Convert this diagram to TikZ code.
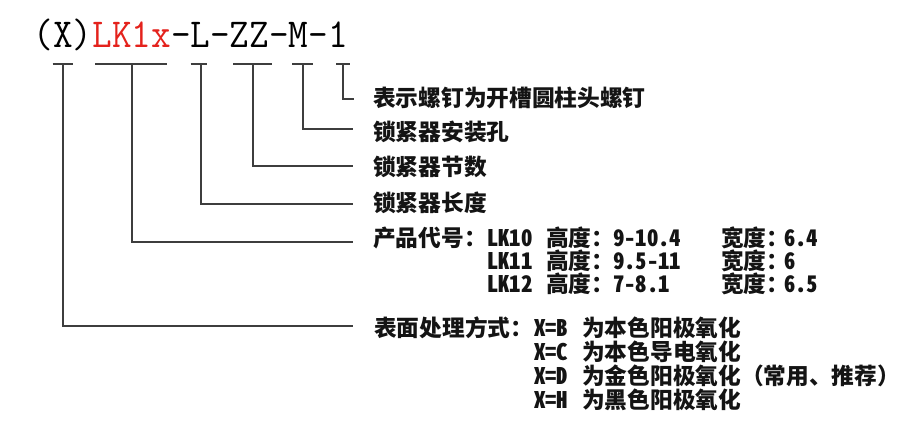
\documentclass[tikz,border=0pt]{standalone}
\usepackage{fontspec}
\newfontfamily\cjk{Noto Sans CJK SC}
\newfontfamily\cjklat[RawFeature=+hwid]{Noto Sans CJK SC}
\definecolor{linegray}{RGB}{62,62,62}
\definecolor{codered}{RGB}{228,34,28}
\definecolor{ink}{RGB}{20,20,20}
\tikzset{
  lbl/.style={anchor=west, inner sep=0pt, text=ink, font=\cjk\bfseries\fontsize{22.7}{24}\selectfont, text height=18.6pt, text depth=1.6pt},
  latlbl/.style={lbl, font=\cjklat\bfseries\fontsize{22.7}{24}\selectfont},
  bar/.style={draw=linegray, line width=1.8pt},
  leader/.style={draw=linegray, line width=1.8pt}
}
\begin{document}
\begin{tikzpicture}[x=1pt,y=-1pt]
\useasboundingbox[fill=white] (0,0) rectangle (908,441);
% title
\node[anchor=base west, inner sep=0pt, yscale=1.08, font=\ttfamily\fontsize{38.1}{40}\selectfont] (title) at (33.5,48)
  {(X)\textcolor{codered}{LK1x}-L-ZZ-M-1};
% bars under the code
\coordinate (b1) at (63,64);
\coordinate (b2) at (132,64);
\coordinate (b3) at (200.7,64);
\coordinate (b4) at (253.3,64);
\coordinate (b5) at (303.3,64);
\coordinate (b6) at (343.3,64);
\draw[bar] (52.7,64) -- (72.7,64);
\draw[bar] (95,64) -- (167,64);
\draw[bar] (190.7,64) -- (207.3,64);
\draw[bar] (233.3,64) -- (271.7,64);
\draw[bar] (292.3,64) -- (313.3,64);
\draw[bar] (336,64) -- (350,64);
% leader ends
\coordinate (e6) at (354,99);
\coordinate (e5) at (353,129.3);
\coordinate (e4) at (353,165.7);
\coordinate (e3) at (353,204.3);
\coordinate (e2) at (353,242);
\coordinate (e1) at (353,326);
\draw[leader] (b6) |- (e6);
\draw[leader] (b5) |- (e5);
\draw[leader] (b4) |- (e4);
\draw[leader] (b3) |- (e3);
\draw[leader] (b2) |- (e2);
\draw[leader] (b1) |- (e1);
% labels
\node[lbl] (t6) at (373,98) {表示螺钉为开槽圆柱头螺钉};
\node[lbl] (t5) at (373,132) {锁紧器安装孔};
\node[lbl] (t4) at (373,167) {锁紧器节数};
\node[lbl] (t3) at (373,203) {锁紧器长度};
% product codes
\node[lbl] (t2) at (373,238) {产品代号：};
\node[latlbl] (c1) at (487,238) {LK10};
\node[lbl] (h1) at (546,238) {高度：};
\node[latlbl] (hv1) at (613,238) {9-10.4};
\node[lbl] (w1) at (721,238) {宽度：};
\node[latlbl] (wv1) at (784,238) {6.4};
\node[latlbl] (c2) at (487,261) {LK11};
\node[lbl] (h2) at (546,261) {高度：};
\node[latlbl] (hv2) at (613,261) {9.5-11};
\node[lbl] (w2) at (721,261) {宽度：};
\node[latlbl] (wv2) at (784,261) {6};
\node[latlbl] (c3) at (487,284) {LK12};
\node[lbl] (h3) at (546,284) {高度：};
\node[latlbl] (hv3) at (613,284) {7-8.1};
\node[lbl] (w3) at (721,284) {宽度：};
\node[latlbl] (wv3) at (784,284) {6.5};
% surface treatment
\node[lbl] (t1) at (374,328) {表面处理方式：};
\node[latlbl] (x1) at (534,328) {X=B};
\node[lbl] (d1) at (582,328) {为本色阳极氧化};
\node[latlbl] (x2) at (534,352) {X=C};
\node[lbl] (d2) at (582,352) {为本色导电氧化};
\node[latlbl] (x3) at (534,376) {X=D};
\node[lbl] (d3) at (582,376) {为金色阳极氧化（常用、推荐）};
\node[latlbl] (x4) at (534,400) {X=H};
\node[lbl] (d4) at (582,400) {为黑色阳极氧化};
\end{tikzpicture}
\end{document}
